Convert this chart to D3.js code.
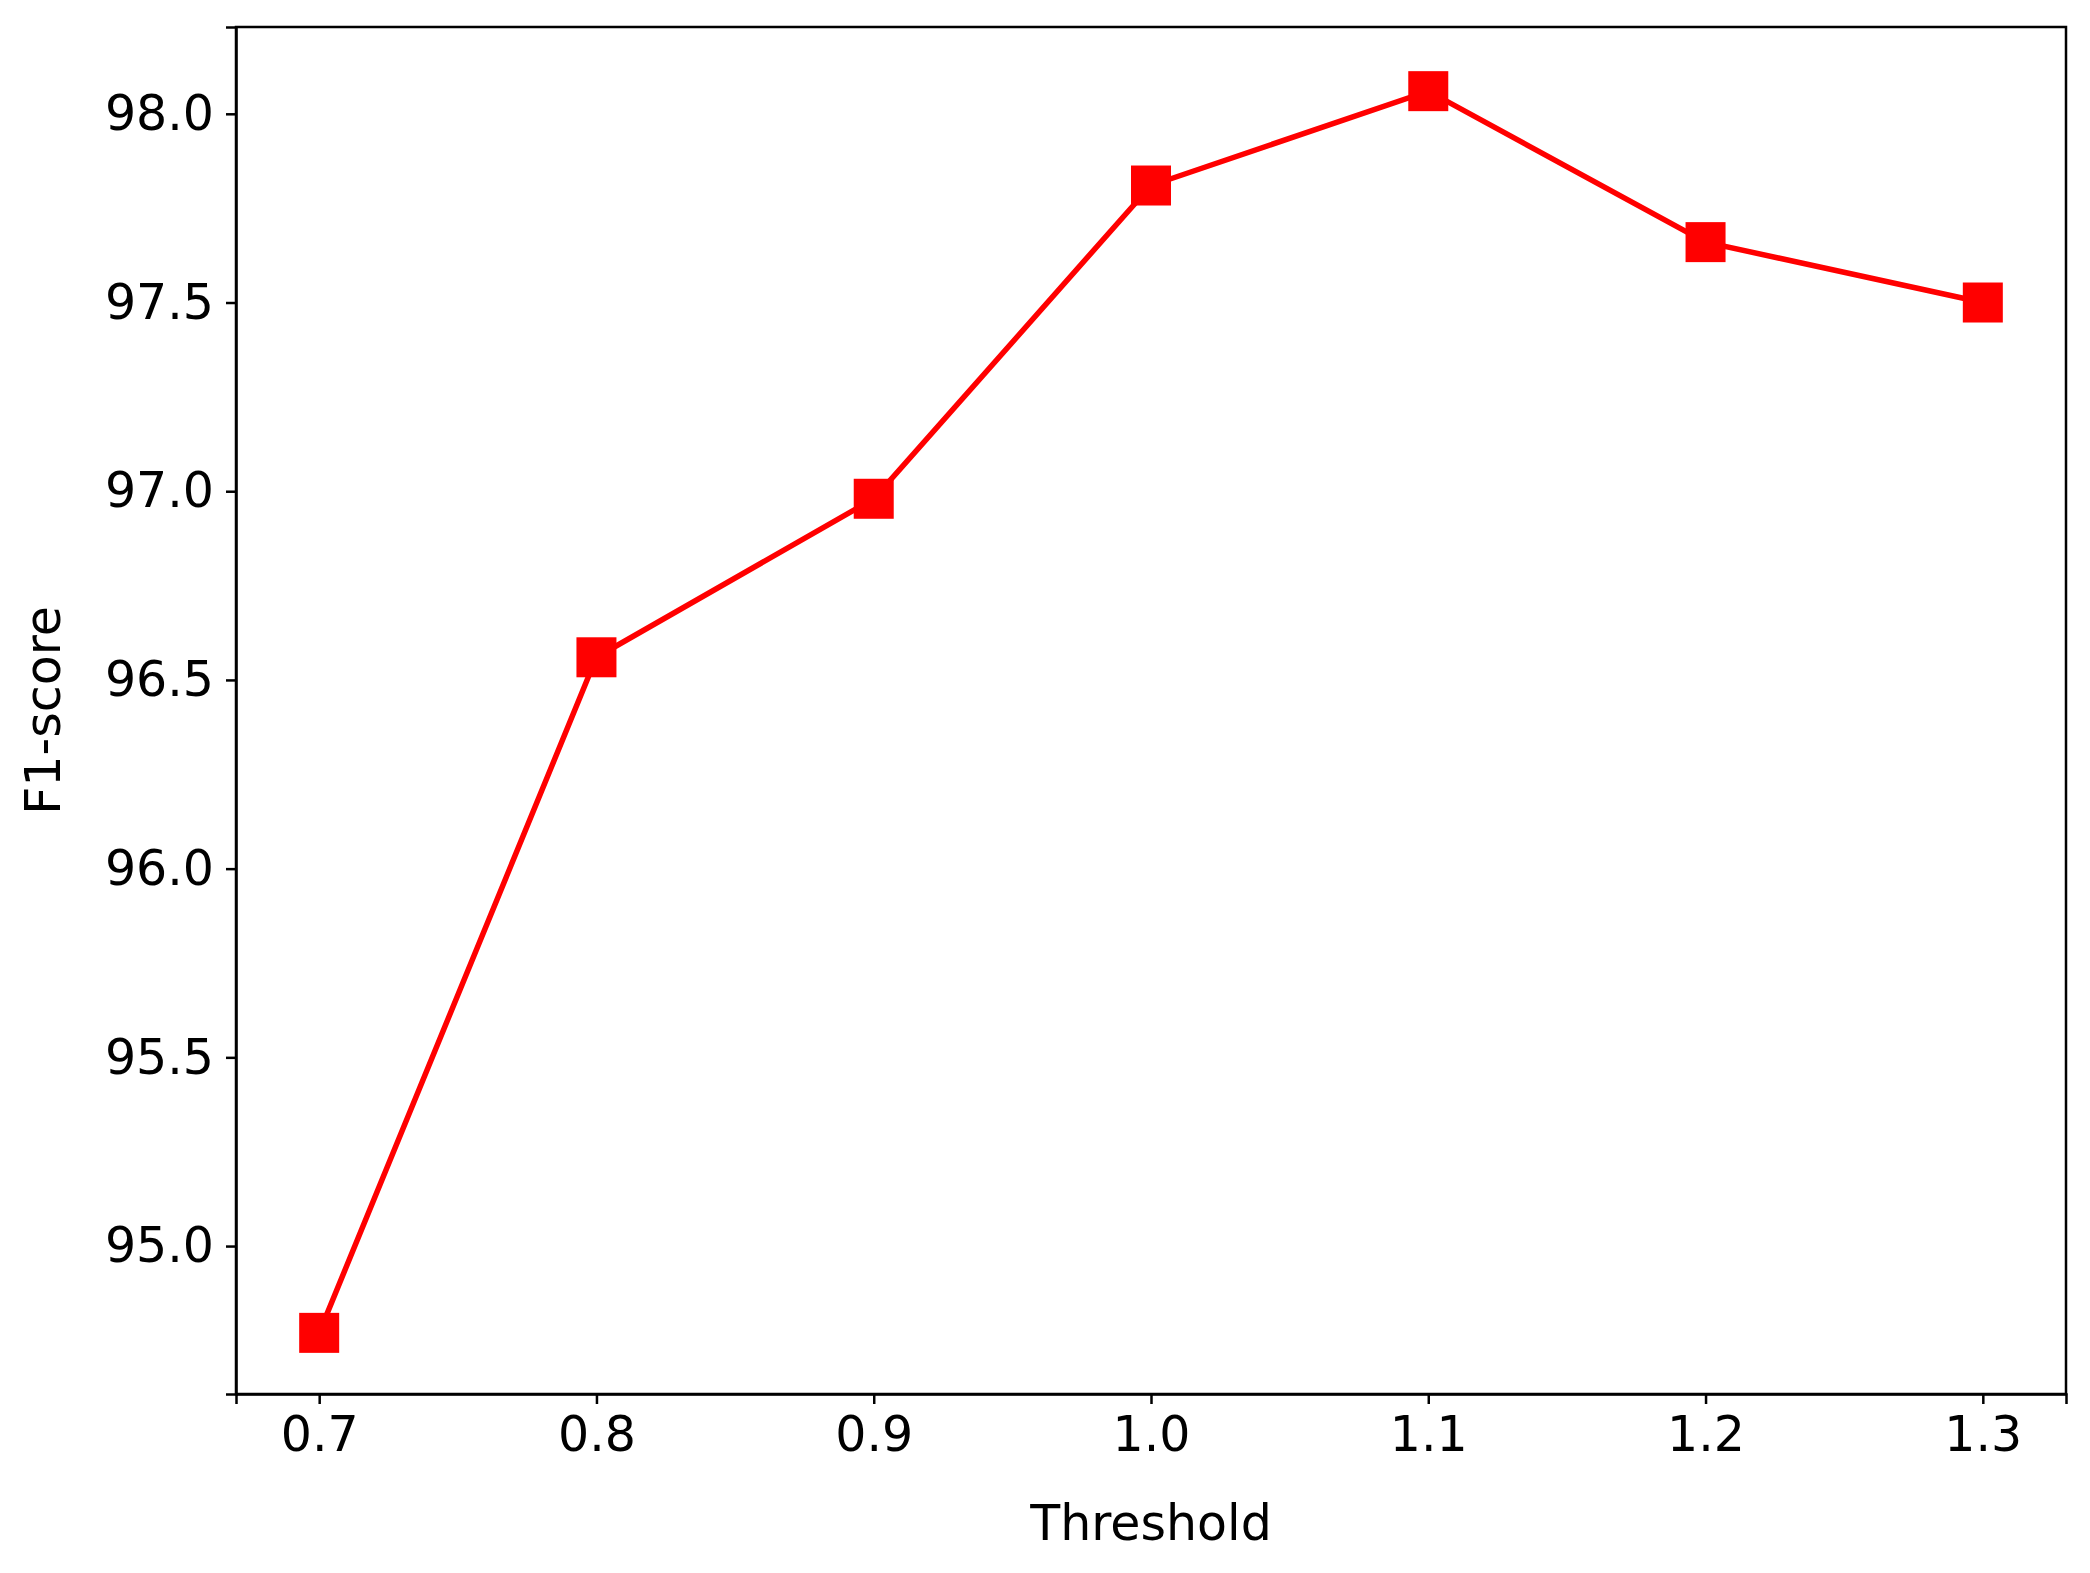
<!DOCTYPE html>
<html><head><meta charset="utf-8">
<script src="https://cdn.jsdelivr.net/npm/d3@7"></script>
<style>body{margin:0;background:#fff}text{font-family:"DejaVu Sans",sans-serif}</style>
</head><body>
<svg width="2090" height="1573"></svg>
<script>
const thresholds = [0.7, 0.8, 0.9, 1.0, 1.1, 1.2, 1.3];
const f1 = [94.77, 96.56, 96.98, 97.81, 98.06, 97.66, 97.50];
const yTicks = [95.0, 95.5, 96.0, 96.5, 97.0, 97.5, 98.0];

const svg = d3.select('svg');
const m = {left: 236, right: 2066, top: 27, bottom: 1394};

const x = d3.scaleLinear().domain([0.67, 1.33]).range([m.left, m.right]);
const y = d3.scaleLinear().domain([94.608, 98.23]).range([m.bottom, m.top]);

svg.append('g')
    .attr('transform', 'translate(0,' + m.bottom + ')')
    .call(d3.axisBottom(x).tickValues(thresholds).tickFormat(d3.format('.1f')).tickSize(10).tickPadding(12))
    .call(g => g.selectAll('text').attr('font-size', 49).attr('fill', '#000'))
    .call(g => g.selectAll('line,path').attr('stroke-width', 2.5));

svg.append('g')
    .attr('transform', 'translate(' + m.left + ',0)')
    .call(d3.axisLeft(y).tickValues(yTicks).tickFormat(d3.format('.1f')).tickSize(10).tickPadding(12))
    .call(g => g.selectAll('text').attr('font-size', 49).attr('fill', '#000'))
    .call(g => g.selectAll('line,path').attr('stroke-width', 2.5));

svg.append('rect')
    .attr('x', m.left).attr('y', m.top)
    .attr('width', m.right - m.left).attr('height', m.bottom - m.top)
    .attr('fill', 'none').attr('stroke', '#000').attr('stroke-width', 2.5);

const line = d3.line().x((d, i) => x(thresholds[i])).y(d => y(d));
svg.append('path').datum(f1)
    .attr('d', line).attr('fill', 'none').attr('stroke', '#ff0000').attr('stroke-width', 5.5);

const s = 40;
svg.selectAll('.pt').data(f1).enter().append('rect')
    .attr('x', (d, i) => x(thresholds[i]) - s / 2)
    .attr('y', d => y(d) - s / 2)
    .attr('width', s).attr('height', s).attr('fill', '#ff0000');

svg.append('text').attr('x', (m.left + m.right) / 2).attr('y', 1540)
    .attr('text-anchor', 'middle').attr('font-size', 49).text('Threshold');
svg.append('text').attr('transform', 'translate(60,' + (m.top + m.bottom) / 2 + ') rotate(-90)')
    .attr('text-anchor', 'middle').attr('font-size', 49).text('F1-score');
</script>
</body></html>
